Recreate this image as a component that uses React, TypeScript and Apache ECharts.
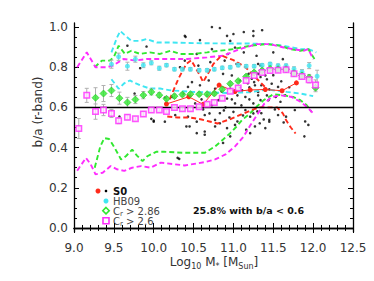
import React, { useEffect, useRef } from "react";
import * as echarts from "echarts";

// ---- tick values ----
const xTickLabels = [9.0, 9.5, 10.0, 10.5, 11.0, 11.5, 12.0, 12.5];
const yMajorTicks = [0, 0.2, 0.4, 0.6, 0.8, 1.0];
const yMinorTicks = [0, 0.05, 0.1, 0.15, 0.2, 0.25, 0.3, 0.35, 0.4, 0.45, 0.5, 0.55, 0.6, 0.65, 0.7, 0.75, 0.8, 0.85, 0.9, 0.95, 1.0];

// ---- C_r > 2.6 (magenta squares) ----
const magX = [9.06, 9.16, 9.27, 9.37, 9.47, 9.56, 9.67, 9.77, 9.87, 9.97, 10.07, 10.16, 10.26, 10.36, 10.46, 10.57, 10.67, 10.76, 10.86, 10.96, 11.06, 11.16, 11.26, 11.36, 11.46, 11.56, 11.66, 11.76, 11.86, 11.95, 12.03];
const magY = [0.495, 0.66, 0.579, 0.587, 0.57, 0.534, 0.551, 0.544, 0.567, 0.587, 0.587, 0.58, 0.6, 0.593, 0.593, 0.603, 0.616, 0.625, 0.646, 0.68, 0.697, 0.734, 0.759, 0.774, 0.784, 0.785, 0.787, 0.767, 0.754, 0.737, 0.712];
const magErr = [0.05, 0.035, 0.038, 0.028, 0.02, 0.015, 0.012, 0.01, 0.01, 0.01, 0.008, 0.008, 0.008, 0.008, 0.008, 0.008, 0.008, 0.008, 0.008, 0.008, 0.008, 0.008, 0.008, 0.008, 0.008, 0.008, 0.008, 0.01, 0.012, 0.015, 0.025];

// ---- C_r > 2.86 (green diamonds) ----
const grnX = [9.27, 9.37, 9.47, 9.57, 9.67, 9.77, 9.87, 9.97, 10.07, 10.16, 10.26, 10.36, 10.46, 10.57, 10.67, 10.76, 10.86, 10.96, 11.06, 11.16, 11.26, 11.36, 11.46, 11.56, 11.66, 11.76, 11.86, 11.95, 12.03];
const grnY = [0.648, 0.669, 0.684, 0.646, 0.625, 0.639, 0.661, 0.677, 0.661, 0.643, 0.656, 0.664, 0.666, 0.666, 0.666, 0.669, 0.69, 0.718, 0.731, 0.754, 0.774, 0.784, 0.792, 0.79, 0.79, 0.77, 0.759, 0.749, 0.698];
const grnErr = [0.05, 0.04, 0.03, 0.03, 0.025, 0.02, 0.018, 0.015, 0.012, 0.01, 0.01, 0.008, 0.008, 0.008, 0.008, 0.008, 0.008, 0.008, 0.008, 0.008, 0.008, 0.008, 0.008, 0.008, 0.008, 0.01, 0.012, 0.015, 0.02];

// ---- HB09 (cyan circles) ----
const cyaX = [9.47, 9.56, 9.67, 9.77, 9.87, 9.97, 10.07, 10.16, 10.26, 10.36, 10.46, 10.57, 10.67, 10.76, 10.86, 10.96, 11.06, 11.16, 11.26, 11.36, 11.46, 11.56, 11.66, 11.76, 11.86, 11.95, 12.05];
const cyaY = [0.815, 0.852, 0.805, 0.84, 0.81, 0.822, 0.795, 0.81, 0.79, 0.79, 0.79, 0.785, 0.785, 0.79, 0.797, 0.80, 0.81, 0.805, 0.805, 0.81, 0.816, 0.808, 0.808, 0.792, 0.776, 0.808, 0.755];
const cyaErr = [0.02, 0.018, 0.02, 0.015, 0.012, 0.01, 0.01, 0.008, 0.008, 0.008, 0.008, 0.008, 0.008, 0.008, 0.008, 0.008, 0.008, 0.008, 0.008, 0.008, 0.008, 0.008, 0.008, 0.01, 0.012, 0.015, 0.03];

// ---- S0 medians (red) ----
const s0X = [10.16, 10.44, 10.62, 10.82, 11.02, 11.21, 11.40, 11.61, 11.79];
const s0Y = [0.617, 0.653, 0.615, 0.711, 0.679, 0.687, 0.689, 0.683, 0.722];

// ---- percentile (dashed) lines ----
const cyaUpX = [9.47, 9.54, 9.58, 9.63, 9.72, 9.83, 9.91, 10.04, 10.21, 10.5, 10.92, 11.2, 11.45, 11.65, 11.84, 11.94, 12.04];
const cyaUpY = [0.874, 0.948, 0.98, 0.962, 0.931, 0.931, 0.94, 0.923, 0.923, 0.92, 0.918, 0.918, 0.915, 0.905, 0.89, 0.89, 0.874];
const cyaLoX = [9.47, 9.56, 9.63, 9.70, 9.83, 9.95, 10.08, 10.21, 10.5, 10.92, 11.2, 11.42, 11.67, 11.84, 12.0];
const cyaLoY = [0.74, 0.693, 0.72, 0.734, 0.71, 0.694, 0.694, 0.685, 0.677, 0.672, 0.675, 0.689, 0.677, 0.669, 0.656];
const grnUpX = [9.26, 9.35, 9.45, 9.5, 9.56, 9.64, 9.72, 9.83, 9.95, 10.08, 10.21, 10.33, 10.5, 10.67, 10.83, 11.0, 11.21, 11.42, 11.59, 11.71, 11.84, 11.94, 12.03];
const grnUpY = [0.80, 0.833, 0.833, 0.85, 0.907, 0.866, 0.882, 0.866, 0.874, 0.866, 0.882, 0.866, 0.866, 0.874, 0.882, 0.89, 0.907, 0.915, 0.907, 0.89, 0.882, 0.89, 0.833];
const grnLoX = [9.26, 9.33, 9.38, 9.44, 9.50, 9.59, 9.65, 9.73, 9.79, 9.86, 9.92, 10.03, 10.13, 10.39, 10.64, 10.77, 10.87, 10.96, 11.04, 11.11, 11.21, 11.29, 11.38, 11.50, 11.63, 11.75, 11.84, 11.92, 11.98];
const grnLoY = [0.30, 0.406, 0.447, 0.443, 0.406, 0.341, 0.357, 0.39, 0.36, 0.333, 0.357, 0.379, 0.379, 0.374, 0.374, 0.406, 0.44, 0.472, 0.505, 0.538, 0.571, 0.603, 0.636, 0.665, 0.66, 0.652, 0.636, 0.611, 0.578];
const magUpX = [9.04, 9.16, 9.27, 9.41, 9.49, 9.62, 9.77, 9.91, 10.08, 10.42, 10.67, 10.87, 11.08, 11.29, 11.46, 11.63, 11.75, 11.88, 11.94, 12.0];
const magUpY = [0.80, 0.874, 0.80, 0.80, 0.808, 0.841, 0.833, 0.841, 0.841, 0.841, 0.849, 0.857, 0.89, 0.915, 0.915, 0.898, 0.89, 0.882, 0.89, 0.84];
const magLoX = [9.04, 9.15, 9.21, 9.27, 9.36, 9.46, 9.54, 9.63, 9.73, 9.84, 9.96, 10.09, 10.39, 10.64, 10.77, 10.90, 11.02, 11.13, 11.21, 11.31, 11.39, 11.48, 11.6, 11.73, 11.84, 11.92, 12.0];
const magLoY = [0.285, 0.349, 0.316, 0.267, 0.275, 0.308, 0.292, 0.284, 0.30, 0.308, 0.30, 0.325, 0.311, 0.328, 0.341, 0.366, 0.406, 0.456, 0.51, 0.571, 0.62, 0.652, 0.66, 0.652, 0.628, 0.603, 0.571];
const redUpX = [10.2, 10.31, 10.41, 10.47, 10.58, 10.62, 10.75, 10.85, 11.0, 11.15, 11.3, 11.4];
const redUpY = [0.64, 0.743, 0.817, 0.835, 0.759, 0.726, 0.817, 0.858, 0.835, 0.80, 0.74, 0.70];
const redLoX = [10.17, 10.3, 10.45, 10.6, 10.7, 10.8, 10.95, 11.1, 11.25, 11.33, 11.45, 11.55, 11.62, 11.66, 11.72, 11.78];
const redLoY = [0.555, 0.55, 0.55, 0.54, 0.53, 0.52, 0.54, 0.565, 0.59, 0.60, 0.60, 0.60, 0.57, 0.537, 0.50, 0.47];

// ---- individual S0 galaxies (black dots) ----
const dotX = [9.67, 9.91, 9.83, 9.76, 9.57, 10.0, 10.14, 10.40, 10.58, 10.92, 11.25, 10.96, 10.73, 11.02, 11.13, 10.54, 10.93, 11.29, 10.39, 10.71, 10.89, 11.04, 11.34, 10.33, 10.56, 10.87, 10.98, 11.19, 11.32, 10.48, 10.69, 11.08, 11.23, 10.58, 10.77, 10.96, 11.11, 11.27, 10.23, 10.37, 10.67, 10.81, 10.92, 11.15, 11.31, 10.52, 10.73, 11.02, 11.25, 10.27, 10.43, 10.64, 10.83, 11.0, 11.15, 11.21, 10.77, 10.54, 10.45, 10.54, 10.64, 10.30, 10.83, 10.92, 11.02, 11.16, 11.21, 11.27, 10.87, 10.96, 11.36, 11.50, 11.31, 11.29, 11.34, 11.40, 11.26, 11.35, 11.48, 11.56, 11.31, 11.42, 11.53, 11.34, 11.44, 11.59, 11.65, 11.35, 11.45, 11.56, 11.66, 11.77, 11.33, 11.40, 11.45, 11.63, 11.89, 11.94, 10.73, 10.83, 11.25, 10.39, 10.14, 10.0, 10.41, 10.64, 10.77, 10.43, 9.97, 10.32, 11.13, 11.0, 11.62, 11.55, 11.5, 11.6, 11.7, 11.45, 11.2, 11.05, 10.9, 11.1, 11.2, 10.6, 10.95, 11.3, 11.25, 11.12, 11.52, 11.9, 11.38, 11.05, 10.7, 11.08, 10.85, 11.18, 11.42, 10.98, 10.62, 10.88];
const dotY = [0.907, 0.903, 0.795, 0.669, 0.554, 0.534, 0.649, 0.951, 0.935, 0.956, 0.956, 0.931, 0.89, 0.898, 0.874, 0.866, 0.866, 0.857, 0.833, 0.825, 0.833, 0.816, 0.808, 0.80, 0.808, 0.767, 0.759, 0.767, 0.767, 0.726, 0.734, 0.734, 0.743, 0.71, 0.693, 0.693, 0.685, 0.71, 0.652, 0.669, 0.66, 0.636, 0.644, 0.652, 0.66, 0.62, 0.611, 0.62, 0.62, 0.562, 0.554, 0.562, 0.571, 0.578, 0.587, 0.554, 0.538, 0.529, 0.505, 0.472, 0.464, 0.349, 0.521, 0.497, 0.513, 0.489, 0.472, 0.505, 0.423, 0.456, 0.984, 0.874, 0.816, 0.767, 0.751, 0.759, 0.726, 0.71, 0.718, 0.702, 0.677, 0.66, 0.652, 0.636, 0.636, 0.628, 0.66, 0.571, 0.538, 0.562, 0.554, 0.587, 0.521, 0.497, 0.529, 0.525, 0.456, 0.513, 1.0, 0.995, 0.98, 0.956, 0.529, 0.529, 0.505, 0.48, 0.505, 0.702, 0.543, 0.344, 0.975, 0.965, 0.84, 0.78, 0.76, 0.73, 0.70, 0.69, 0.70, 0.66, 0.60, 0.61, 0.64, 0.64, 0.55, 0.58, 0.57, 0.56, 0.59, 0.53, 0.54, 0.53, 0.57, 0.70, 0.68, 0.72, 0.74, 0.64, 0.59, 0.585];

const FONT = "DejaVu Sans";
const CYAN = "#3fe6f2";
const GREEN = "#30e830";
const MAGENTA = "#ff2cff";
const RED = "#ff2a1a";

const zip = (xs: number[], ys: number[]) => xs.map((x, i) => [x, ys[i]]);
const errData = (xs: number[], ys: number[], es: number[]) => xs.map((x, i) => [x, ys[i] - es[i], ys[i] + es[i]]);

function dashed(name: string, xs: number[], ys: number[], color: string) {
  return {
    name,
    type: "line",
    data: zip(xs, ys),
    showSymbol: false,
    symbol: "none",
    smooth: false,
    z: 2,
    lineStyle: { color, width: 1.9, type: [5, 3] },
  };
}

function errSeries(xs: number[], ys: number[], es: number[]) {
  return {
    type: "custom",
    data: errData(xs, ys, es),
    encode: { x: 0, y: [1, 2] },
    z: 3,
    renderItem: (params: any, api: any) => {
      const x = api.value(0);
      const p1 = api.coord([x, api.value(1)]);
      const p2 = api.coord([x, api.value(2)]);
      const st = { stroke: "#b0b0b0", lineWidth: 1 };
      return {
        type: "group",
        children: [
          { type: "line", shape: { x1: p1[0], y1: p1[1], x2: p2[0], y2: p2[1] }, style: st },
          { type: "line", shape: { x1: p1[0] - 2, y1: p1[1], x2: p1[0] + 2, y2: p1[1] }, style: st },
          { type: "line", shape: { x1: p2[0] - 2, y1: p2[1], x2: p2[0] + 2, y2: p2[1] }, style: st },
        ],
      };
    },
  };
}

export default function App() {
  const ref = useRef<HTMLDivElement>(null);
  useEffect(() => {
    if (!ref.current) return;
    const chart = echarts.init(ref.current, null, { renderer: "svg" });
    const axisLine = { show: true, lineStyle: { color: "#000", width: 1.3 } };
    const tickStyle = { color: "#000", width: 1 };
    const xCommon = {
      type: "value",
      min: 9,
      max: 12.5,
      interval: 0.5,
      splitLine: { show: false },
      axisLine,
      axisTick: { show: true, inside: true, length: 5, lineStyle: tickStyle },
      minorTick: { show: true, splitNumber: 5, length: 3, lineStyle: tickStyle },
    };
    const yCommon = {
      type: "value",
      min: -0.02,
      max: 1.02,
      splitLine: { show: false },
    };
    const option: any = {
      animation: false,
      textStyle: { fontFamily: FONT },
      grid: { left: 74, right: 21, top: 23, bottom: 49, containLabel: false },
      xAxis: [
        {
          ...xCommon,
          position: "bottom",
          axisLabel: {
            show: true,
            margin: 10,
            fontSize: 12,
            color: "#333",
            fontFamily: FONT,
            formatter: (v: number) => (xTickLabels.indexOf(v) >= 0 ? v.toFixed(1) : ""),
          },
        },
        { ...xCommon, position: "top", axisLabel: { show: false } },
      ],
      yAxis: [
        {
          ...yCommon,
          position: "left",
          axisLine,
          axisTick: { show: true, inside: true, length: 5, customValues: yMajorTicks, lineStyle: tickStyle },
          axisLabel: {
            show: true,
            customValues: yMajorTicks,
            margin: 6,
            fontSize: 12,
            color: "#333",
            fontFamily: FONT,
            formatter: (v: number) => v.toFixed(1),
          },
        },
        {
          ...yCommon,
          position: "left",
          axisLine: { show: false },
          axisTick: { show: true, inside: true, length: 3, customValues: yMinorTicks, lineStyle: tickStyle },
          axisLabel: { show: false },
        },
        {
          ...yCommon,
          position: "right",
          axisLine,
          axisTick: { show: true, inside: true, length: 5, customValues: yMajorTicks, lineStyle: tickStyle },
          axisLabel: { show: false },
        },
        {
          ...yCommon,
          position: "right",
          axisLine: { show: false },
          axisTick: { show: true, inside: true, length: 3, customValues: yMinorTicks, lineStyle: tickStyle },
          axisLabel: { show: false },
        },
      ],
      series: [
        {
          name: "S0 galaxies",
          type: "scatter",
          data: zip(dotX, dotY),
          symbol: "circle",
          symbolSize: 2.6,
          itemStyle: { color: "#000" },
          z: 1,
          markLine: {
            silent: true,
            symbol: "none",
            label: { show: false },
            lineStyle: { color: "#000", width: 1.4, type: "solid" },
            data: [{ yAxis: 0.6 }],
          },
        },
        dashed("HB09 upper", cyaUpX, cyaUpY, CYAN),
        dashed("HB09 lower", cyaLoX, cyaLoY, CYAN),
        dashed("Cr>2.86 upper", grnUpX, grnUpY, GREEN),
        dashed("Cr>2.86 lower", grnLoX, grnLoY, GREEN),
        dashed("Cr>2.6 upper", magUpX, magUpY, MAGENTA),
        dashed("Cr>2.6 lower", magLoX, magLoY, MAGENTA),
        dashed("S0 upper", redUpX, redUpY, RED),
        dashed("S0 lower", redLoX, redLoY, RED),
        errSeries(cyaX, cyaY, cyaErr),
        errSeries(grnX, grnY, grnErr),
        errSeries(magX, magY, magErr),
        {
          name: "S0",
          type: "line",
          data: zip(s0X, s0Y),
          symbol: "circle",
          symbolSize: 5,
          showSymbol: true,
          z: 5,
          itemStyle: { color: RED },
          lineStyle: { color: RED, width: 1 },
        },
        {
          name: "HB09",
          type: "scatter",
          data: zip(cyaX, cyaY),
          symbol: "circle",
          symbolSize: 5,
          z: 5,
          itemStyle: { color: CYAN },
        },
        {
          name: "Cr > 2.86",
          type: "scatter",
          data: zip(grnX, grnY),
          symbol: "diamond",
          symbolSize: 7,
          z: 6,
          itemStyle: { color: GREEN, borderColor: "#22cc22", borderWidth: 0.8 },
        },
        {
          name: "Cr > 2.6",
          type: "scatter",
          data: zip(magX, magY),
          symbol: "rect",
          symbolSize: 5.5,
          z: 7,
          itemStyle: { color: "#ffe6ff", borderColor: MAGENTA, borderWidth: 1.5 },
        },
      ],
      graphic: [
        {
          type: "text",
          x: 38,
          y: 112,
          rotation: Math.PI / 2,
          style: { text: "b/a (r-band)", font: `12px '${FONT}'`, fill: "#333", align: "center", verticalAlign: "middle" },
        },
        {
          type: "text",
          x: 214,
          y: 262,
          style: {
            text: "{n|Log}{s|10}{n| M}{s|*}{n| [M}{s|Sun}{n|]}",
            align: "center",
            verticalAlign: "middle",
            rich: {
              n: { fontSize: 12, fontFamily: FONT, fill: "#333", lineHeight: 16 },
              s: { fontSize: 8, fontFamily: FONT, fill: "#333", lineHeight: 16, verticalAlign: "bottom", padding: [5, 0, 0, 0] },
            },
          },
        },
        { type: "circle", shape: { cx: 98, cy: 191, r: 2.5 }, style: { fill: RED } },
        { type: "circle", shape: { cx: 106, cy: 191, r: 1.3 }, style: { fill: "#000" } },
        { type: "text", x: 113, y: 191, style: { text: "S0", font: `bold 10px '${FONT}'`, fill: "#111", verticalAlign: "middle" } },
        { type: "circle", shape: { cx: 106, cy: 201, r: 2.5 }, style: { fill: CYAN } },
        { type: "text", x: 113, y: 201, style: { text: "HB09", font: `10px '${FONT}'`, fill: "#444", verticalAlign: "middle" } },
        {
          type: "polygon",
          shape: { points: [[106, 207.5], [109.2, 210.7], [106, 213.9], [102.8, 210.7]] },
          style: { fill: "#fff", stroke: GREEN, lineWidth: 1.6 },
        },
        {
          type: "text",
          x: 113,
          y: 211,
          style: {
            text: "{n|C}{s|r}{n| > 2.86}",
            verticalAlign: "middle",
            rich: {
              n: { fontSize: 10, fontFamily: FONT, fill: "#444", lineHeight: 12 },
              s: { fontSize: 7, fontFamily: FONT, fill: "#444", lineHeight: 12, verticalAlign: "bottom", padding: [3, 0, 0, 0] },
            },
          },
        },
        { type: "rect", shape: { x: 103, y: 217.7, width: 6, height: 6 }, style: { fill: "#fff", stroke: MAGENTA, lineWidth: 1.6 } },
        {
          type: "text",
          x: 113,
          y: 221,
          style: {
            text: "{n|C}{s|r}{n| > 2.6}",
            verticalAlign: "middle",
            rich: {
              n: { fontSize: 10, fontFamily: FONT, fill: "#444", lineHeight: 12 },
              s: { fontSize: 7, fontFamily: FONT, fill: "#444", lineHeight: 12, verticalAlign: "bottom", padding: [3, 0, 0, 0] },
            },
          },
        },
        {
          type: "text",
          x: 193,
          y: 210,
          style: { text: "25.8% with b/a < 0.6", font: `bold 9.5px '${FONT}'`, fill: "#111", verticalAlign: "middle" },
        },
      ],
    };
    chart.setOption(option);
    return () => chart.dispose();
  }, []);
  return <div ref={ref} style={{ position: "absolute", left: 0, top: 0, width: 374, height: 281 }} />;
}
